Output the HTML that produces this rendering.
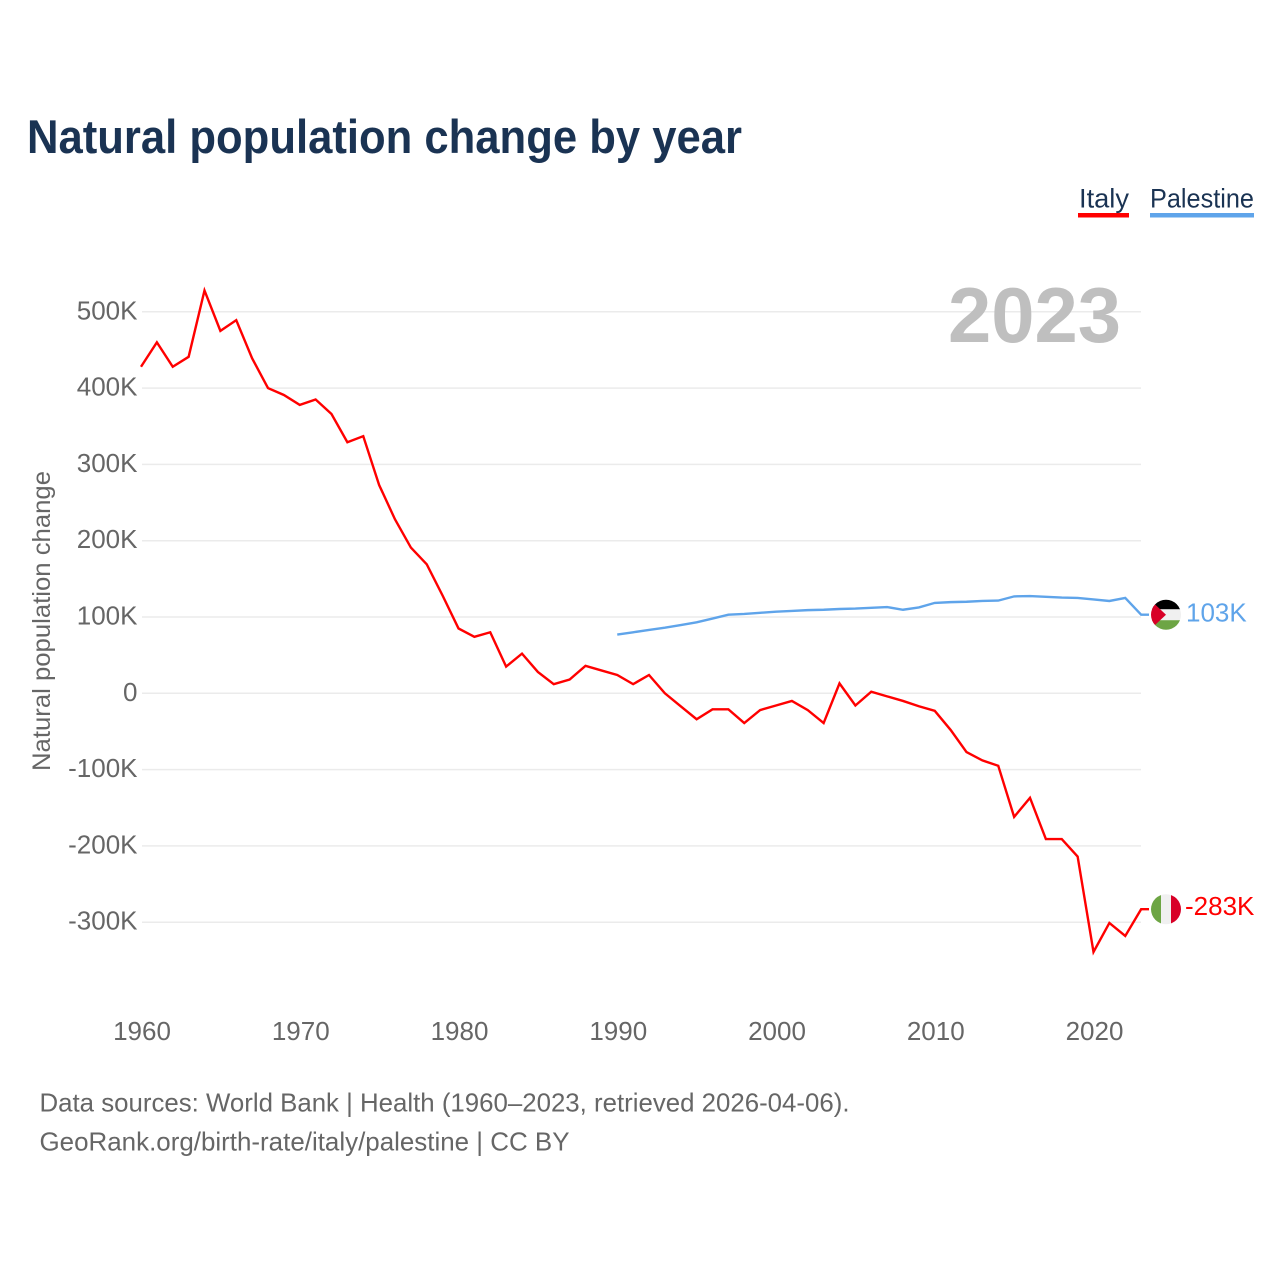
<!DOCTYPE html>
<html lang="en">
<head>
<meta charset="utf-8">
<title>Natural population change by year</title>
<style>
  html, body { margin: 0; padding: 0; background: #fff; }
  svg { display: block; font-family: "Liberation Sans", sans-serif; }
</style>
</head>
<body>
<svg id="chart" width="1280" height="1280" viewBox="0 0 1280 1280" xmlns="http://www.w3.org/2000/svg">
  <defs>
    <clipPath id="flag-clip-pal"><circle id="clip-pal" cx="1166" cy="614" r="15"></circle></clipPath>
    <clipPath id="flag-clip-ita"><circle id="clip-ita" cx="1166" cy="908" r="15"></circle></clipPath>
  </defs>
  <rect x="0" y="0" width="1280" height="1280" fill="#ffffff"></rect>

  <text x="27" y="153" font-size="47" font-weight="700" fill="#1a3353" textLength="715" lengthAdjust="spacingAndGlyphs">Natural population change by year</text>

  <g>
    <text x="1079" y="207.5" font-size="27" fill="#1a3353" textLength="50" lengthAdjust="spacingAndGlyphs">Italy</text>
    <rect x="1078" y="213" width="51" height="4.5" fill="#ff0000"></rect>
  </g>
  <g>
    <text x="1150" y="207.5" font-size="27" fill="#1a3353" textLength="104" lengthAdjust="spacingAndGlyphs">Palestine</text>
    <rect x="1150" y="213" width="104" height="4.5" fill="#5fa4ea"></rect>
  </g>

  <g id="grid"></g>
  <g id="yticks"></g>
  <g id="xticks"></g>

  <text transform="translate(50,621) rotate(-90)" text-anchor="middle" font-size="25" fill="#666666" textLength="300" lengthAdjust="spacingAndGlyphs">Natural population change</text>

  <text x="1121" y="342" text-anchor="end" font-size="78" font-weight="700" fill="#bfbfbf" textLength="173" lengthAdjust="spacingAndGlyphs">2023</text>

  <g id="series"></g>

  <g id="flag-palestine" clip-path="url(#flag-clip-pal)"></g>
  <g id="flag-italy" clip-path="url(#flag-clip-ita)"></g>
  <g id="end-labels"></g>

  <text x="39.5" y="1111.5" font-size="26" fill="#666666" textLength="810" lengthAdjust="spacingAndGlyphs">Data sources: World Bank | Health (1960–2023, retrieved 2026-04-06).</text>
  <text x="39.5" y="1150.5" font-size="26" fill="#666666" textLength="530" lengthAdjust="spacingAndGlyphs">GeoRank.org/birth-rate/italy/palestine | CC BY</text>
</svg>
<script>
const yTickValues = [500, 400, 300, 200, 100, 0, -100, -200, -300];
const yTickLabels = ['500K', '400K', '300K', '200K', '100K', '0', '-100K', '-200K', '-300K'];
const xTickYears = [1960, 1970, 1980, 1990, 2000, 2010, 2020];
const italyStartYear = 1960;
const italyValues = [428, 460, 428, 441, 528, 475, 489, 439, 400, 391, 378, 385, 366, 329, 337, 273, 228, 191, 169, 128, 85, 74, 80, 35, 52, 28, 12, 18, 36, 30, 24, 12, 24, 0, -17, -34, -21, -21, -39, -22, -16, -10, -22, -39, 13, -16, 2, -4, -10, -17, -23, -48, -77, -88, -95, -162, -137, -191, -191, -214, -339, -301, -318, -283];
const palestineStartYear = 1990;
const palestineValues = [77, 80, 83, 86, 89.5, 93, 98, 103, 104, 105.5, 107, 108, 109, 109.5, 110.5, 111, 112, 113, 109.5, 112.5, 118.5, 119.5, 120, 121, 121.5, 127, 127.5, 126.5, 125.5, 125, 123, 121, 125, 103];

const NS = 'http://www.w3.org/2000/svg';
function xScale(year) { return 141 + (year - 1960) * 15.875; }
function yScale(v) { return 693.3 - v * 0.763; }
function fmtK(v) { return Math.round(v) + 'K'; }
function make(tag, attrs, parent) {
  const el = document.createElementNS(NS, tag);
  for (const k in attrs) el.setAttribute(k, attrs[k]);
  parent.appendChild(el);
  return el;
}

const gridG = document.getElementById('grid');
const yG = document.getElementById('yticks');
yTickValues.forEach(function (v, i) {
  const y = yScale(v);
  const ln = make('line', { x1: 142, x2: 1141, y1: y, y2: y, stroke: '#ebebeb', 'stroke-width': 1.5 }, gridG);
  
  
  const t = make('text', { x: 137.5, y: y + 7.5, 'text-anchor': 'end', 'font-size': 26, fill: '#666666' }, yG);
  t.textContent = yTickLabels[i];
  
  
});

const xG = document.getElementById('xticks');
xTickYears.forEach(function (yr) {
  const t = make('text', { x: xScale(yr) + 1, y: 1040, 'text-anchor': 'middle', 'font-size': 26, fill: '#666666' }, xG);
  t.textContent = String(yr);
  
  
});

const seriesG = document.getElementById('series');
function drawLine(values, startYear, color, name) {
  const pts = values.map(function (v, i) { return xScale(startYear + i).toFixed(2) + ',' + yScale(v).toFixed(2); });
  const lastY = yScale(values[values.length - 1]).toFixed(2);
  pts.push('1149,' + lastY);
  const p = make('polyline', { points: pts.join(' '), fill: 'none', stroke: color, 'stroke-width': 2.4, 'stroke-linejoin': 'miter' }, seriesG);
  
  
}
drawLine(italyValues, italyStartYear, '#ff0000', 'italy-line');
drawLine(palestineValues, palestineStartYear, '#5fa4ea', 'palestine-line');

const palY = yScale(palestineValues[palestineValues.length - 1]);
const itaY = yScale(italyValues[italyValues.length - 1]);
const flagX = 1166;
document.getElementById('clip-pal').setAttribute('cy', palY);
document.getElementById('clip-ita').setAttribute('cy', itaY);

const fp = document.getElementById('flag-palestine');
make('rect', { x: flagX - 16, y: palY - 16, width: 32, height: 11, fill: '#000000' }, fp);
make('rect', { x: flagX - 16, y: palY - 5.5, width: 32, height: 11, fill: '#f0f0f0' }, fp);
make('rect', { x: flagX - 16, y: palY + 5.5, width: 32, height: 11, fill: '#6da544' }, fp);
make('polygon', { points: [flagX - 16, palY - 15, flagX, palY, flagX - 16, palY + 15].join(' '), fill: '#d80027' }, fp);

const fi = document.getElementById('flag-italy');
make('rect', { x: flagX - 16, y: itaY - 16, width: 11, height: 32, fill: '#6da544' }, fi);
make('rect', { x: flagX - 5, y: itaY - 16, width: 10, height: 32, fill: '#f0f0f0' }, fi);
make('rect', { x: flagX + 5, y: itaY - 16, width: 11, height: 32, fill: '#d80027' }, fi);

const labelsG = document.getElementById('end-labels');
const palLabel = make('text', { x: 1186, y: palY + 7, 'font-size': 26, fill: '#5fa4ea' }, labelsG);
palLabel.textContent = fmtK(palestineValues[palestineValues.length - 1]);


const itaLabel = make('text', { x: 1185, y: itaY + 6, 'font-size': 26, fill: '#ff0000' }, labelsG);
itaLabel.textContent = fmtK(italyValues[italyValues.length - 1]);


</script>
</body>
</html>
